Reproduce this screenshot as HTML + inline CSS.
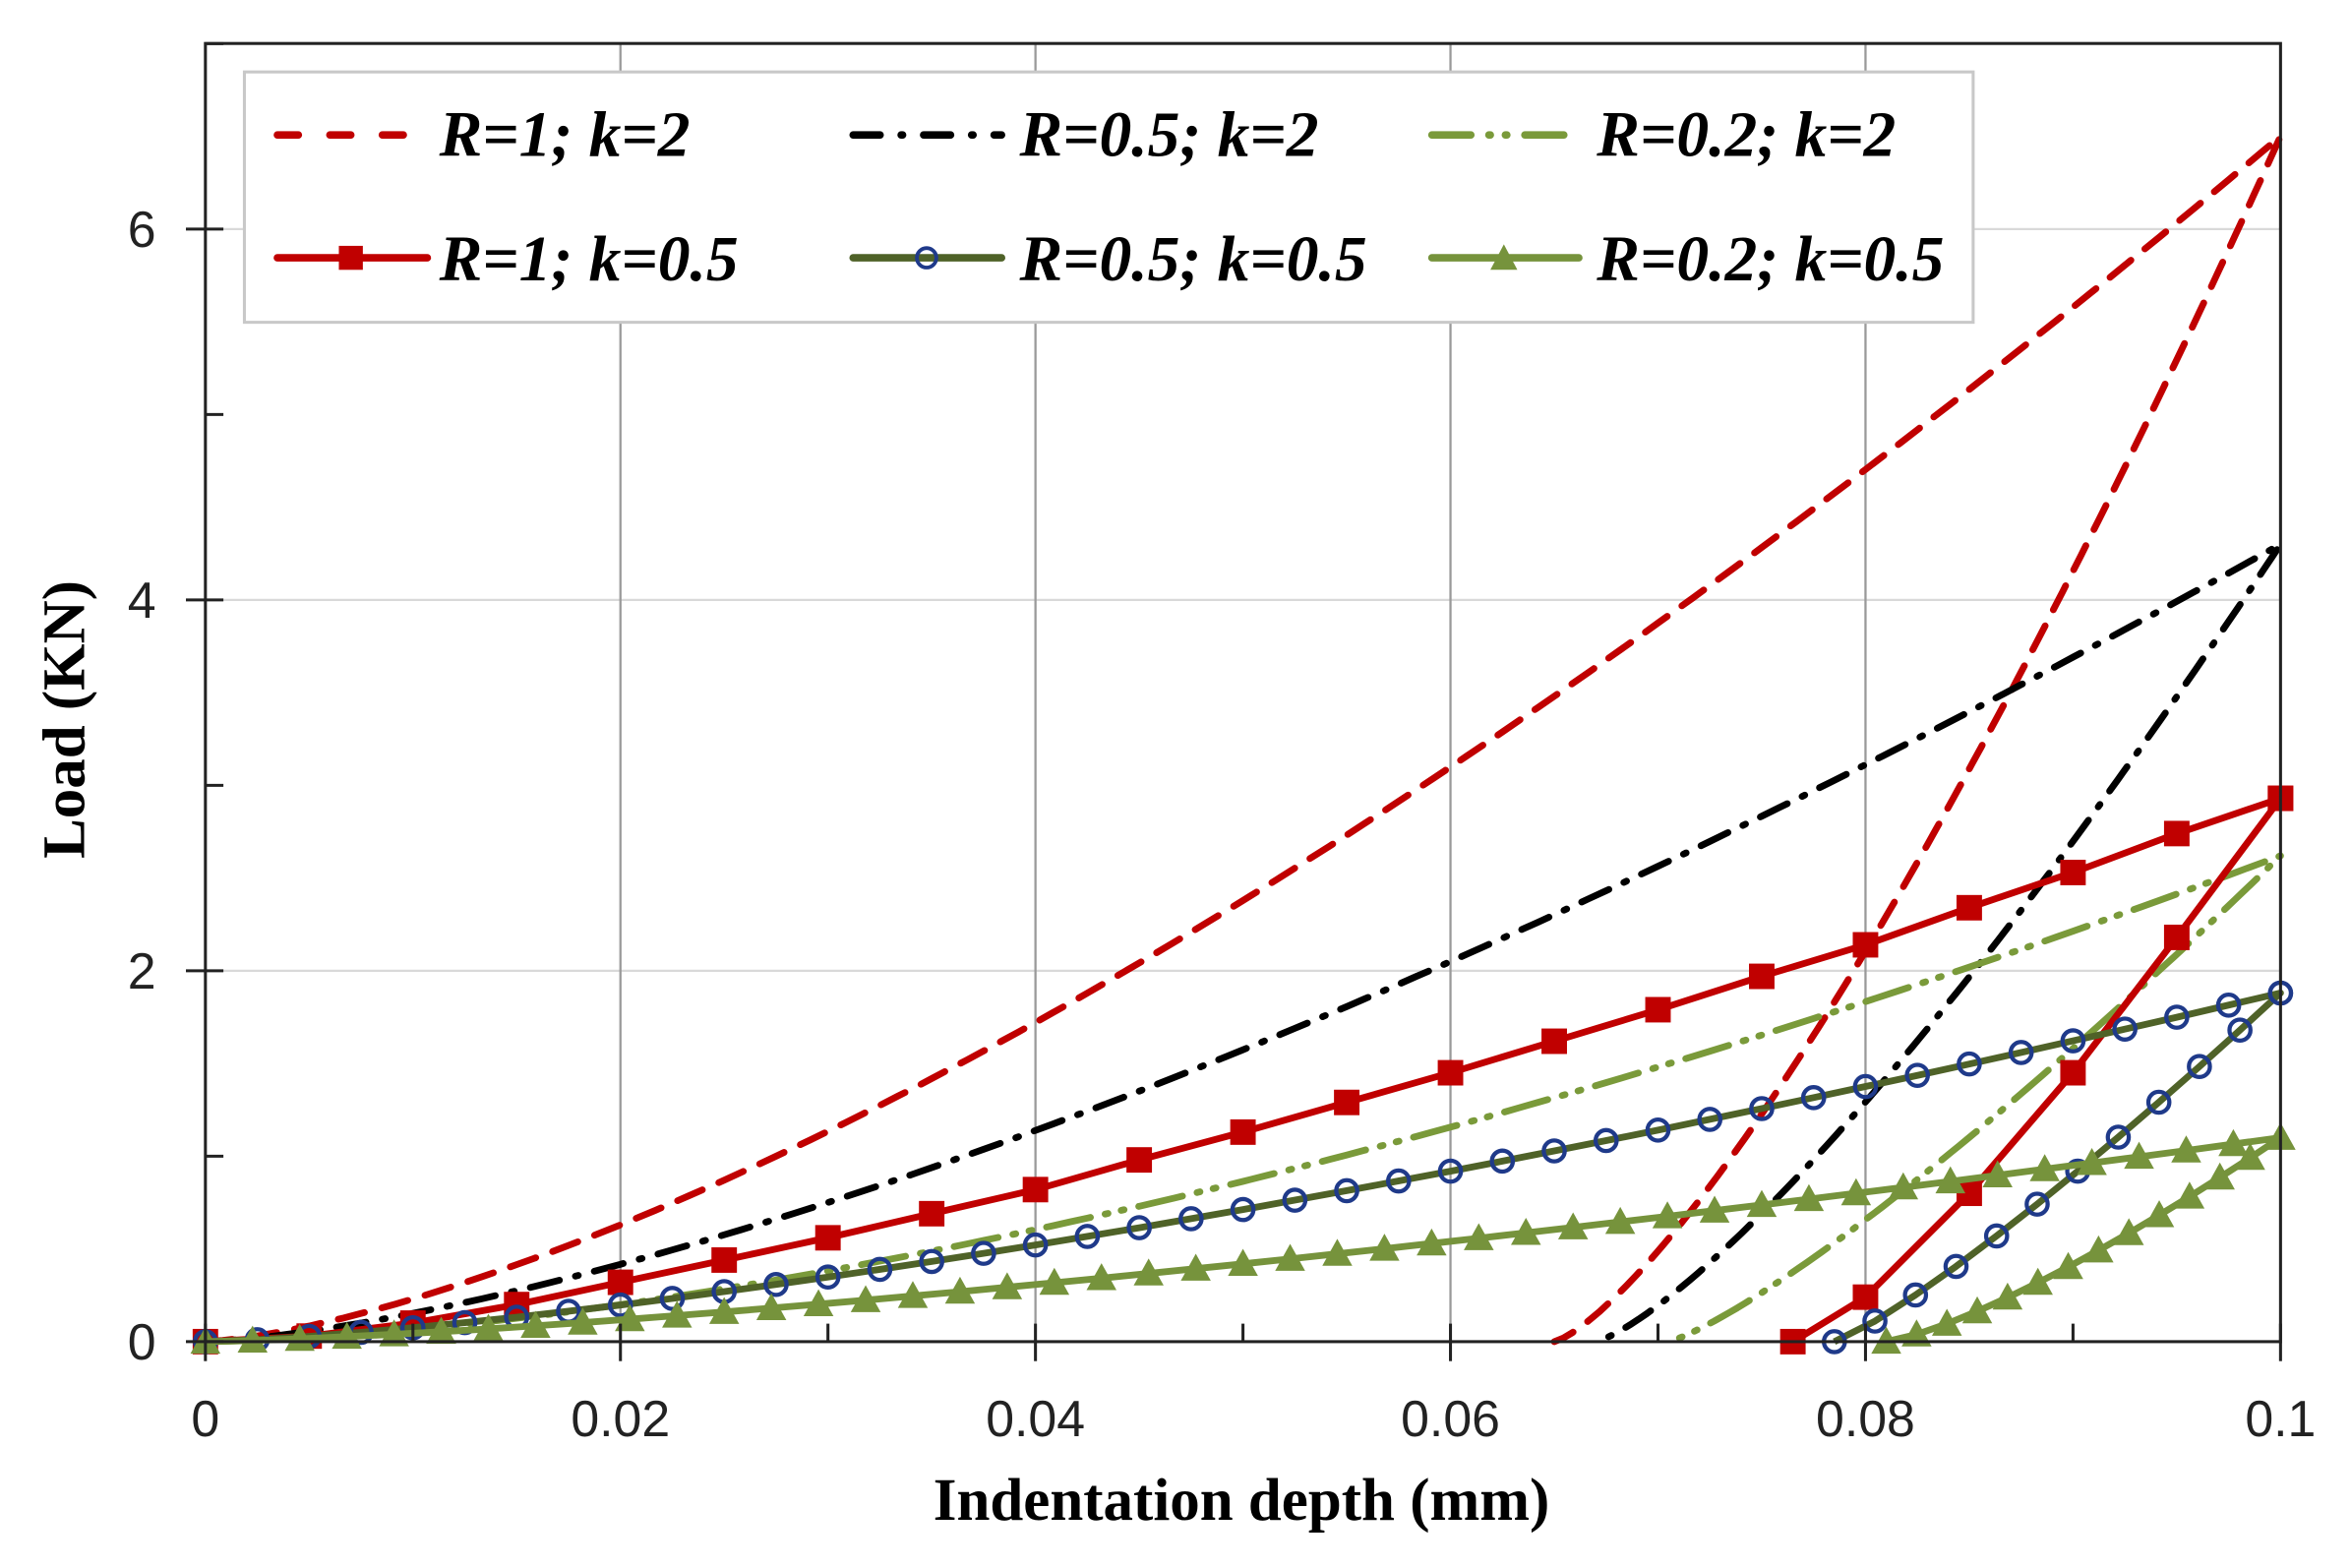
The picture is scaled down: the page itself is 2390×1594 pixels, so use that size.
<!DOCTYPE html>
<html><head><meta charset="utf-8"><style>
html,body{margin:0;padding:0;background:#fff;}
svg{display:block;}
</style></head><body>
<svg id="s" xmlns="http://www.w3.org/2000/svg" width="2390" height="1594" viewBox="0 0 1568 1046" preserveAspectRatio="none">
<rect x="0" y="0" width="1568" height="1046" fill="#fff"/>
<g id="grid"></g>
<g id="series"></g>
<g id="axes"></g>
<!-- legend -->
<rect x="163" y="48" width="1153" height="167" fill="#fff" stroke="#c8c8c8" stroke-width="2"/>
<g font-family="'Liberation Serif',serif" font-weight="bold" font-style="italic" font-size="43" fill="#000">
<text x="293" y="104">R=1; k=2</text>
<text x="680" y="104">R=0.5; k=2</text>
<text x="1065" y="104">R=0.2; k=2</text>
<text x="293" y="187">R=1; k=0.5</text>
<text x="680" y="187">R=0.5; k=0.5</text>
<text x="1065" y="187">R=0.2; k=0.5</text>
</g>
<g stroke-linecap="round">
<line x1="185" y1="90" x2="285" y2="90" stroke="#c00000" stroke-width="5" stroke-dasharray="14,21"/>
<line x1="569" y1="90" x2="668" y2="90" stroke="#000" stroke-width="5" stroke-dasharray="18,14,1,14"/>
<line x1="955" y1="90" x2="1053" y2="90" stroke="#7a9a3a" stroke-width="5" stroke-dasharray="26,12,1,10,1,12"/>
<line x1="185" y1="172" x2="285" y2="172" stroke="#c00000" stroke-width="5"/>
<line x1="569" y1="172" x2="668" y2="172" stroke="#4f6228" stroke-width="5"/>
<line x1="955" y1="172" x2="1053" y2="172" stroke="#76933c" stroke-width="5"/>
</g>
<rect x="226" y="164" width="16" height="16" fill="#c00000"/>
<circle cx="618" cy="172" r="6.5" fill="none" stroke="#1f3a8a" stroke-width="2.5"/>
<polygon points="1003,163 1012,180 994,180" fill="#76933c"/>
<!-- titles -->
<text x="828" y="1014" text-anchor="middle" font-family="'Liberation Serif',serif" font-weight="bold" font-size="40">Indentation depth (mm)</text>
<text transform="translate(56,480) rotate(-90)" text-anchor="middle" font-family="'Liberation Serif',serif" font-weight="bold" font-size="40">Load (KN)</text>
</svg>
<script>
(function(){
var NS="http://www.w3.org/2000/svg";
function X(x){return 137+x*13840;}
function Y(y){return 895-y*123.7;}
function el(p,t,a,txt){var e=document.createElementNS(NS,t);for(var k in a)e.setAttribute(k,a[k]);if(txt!==undefined)e.textContent=txt;p.appendChild(e);return e;}
var grid=document.getElementById('grid'),ax=document.getElementById('axes'),ser=document.getElementById('series');
[2,4,6].forEach(function(v){el(grid,'line',{x1:137,x2:1521,y1:Y(v),y2:Y(v),stroke:'#d9d9d9','stroke-width':1.5});});
[0.02,0.04,0.06,0.08].forEach(function(v){el(grid,'line',{x1:X(v),x2:X(v),y1:29,y2:895,stroke:'#9a9a9a','stroke-width':1.5});});
el(ax,'rect',{x:137,y:29,width:1384,height:866,fill:'none',stroke:'#222','stroke-width':2});
for(var i=0;i<=7;i++){var y=Y(i);if(i%2==0){el(ax,'line',{x1:124,x2:149,y1:y,y2:y,stroke:'#222','stroke-width':2});
el(ax,'text',{x:104,y:y+12,'text-anchor':'end','font-family':"'Liberation Sans',sans-serif",'font-size':34,fill:'#222'},String(i));}
else el(ax,'line',{x1:137,x2:149,y1:y,y2:y,stroke:'#222','stroke-width':2});}
for(var j=0;j<=10;j++){var x=X(j*0.01);if(j%2==0){el(ax,'line',{x1:x,x2:x,y1:883,y2:908,stroke:'#222','stroke-width':2});
el(ax,'text',{x:x,y:958,'text-anchor':'middle','font-family':"'Liberation Sans',sans-serif",'font-size':34,fill:'#222'},j==0?'0':j==10?'0.1':(j/100).toFixed(2));}
else el(ax,'line',{x1:x,x2:x,y1:883,y2:895,stroke:'#222','stroke-width':2});}
function pw(max,p){return function(x){return max*Math.pow(x/0.1,p);};}
function un(max,x0,m){return function(x){return x<=x0?0:max*Math.pow((x-x0)/(0.1-x0),m);};}
function path(f,a,b,n){var d='';for(var i=0;i<=n;i++){var x=a+(b-a)*i/n;d+=(i?'L':'M')+X(x).toFixed(1)+','+Y(f(x)).toFixed(1);}return d;}
function line(d,c,w,da){var a={d:d,fill:'none',stroke:c,'stroke-width':w,'stroke-linejoin':'round'};if(da){a['stroke-dasharray']=da;a['stroke-linecap']='round';}el(ser,'path',a);}
function pts(arr){var d='';arr.forEach(function(p,i){d+=(i?'L':'M')+X(p[0]).toFixed(1)+','+Y(p[1]).toFixed(1);});return d;}
// k=2 dashed
line(path(pw(6.5,1.45),0,0.1,120)+path(un(6.5,0.065,1.33),0.1,0.065,80).replace('M','L'),'#c00000',4.5,'18,12');
line(path(pw(4.3,1.45),0,0.1,120)+path(un(4.3,0.067,1.29),0.1,0.067,80).replace('M','L'),'#000',4.5,'20,11,2,11');
line(path(pw(2.62,1.6),0,0.1,120)+path(un(2.62,0.0705,1.22),0.1,0.0705,80).replace('M','L'),'#7a9a3a',4.5,'30,10,2,9,2,10');
// R=1 k=0.5
var L1=[0,0.03,0.1,0.2,0.32,0.44,0.56,0.69,0.82,0.98,1.13,1.29,1.45,1.62,1.79,1.97,2.14,2.34,2.53,2.74,2.93];
var p1=L1.map(function(v,i){return [i*0.005,v];});
var u1=[[0.1,2.93],[0.095,2.18],[0.09,1.45],[0.085,0.8],[0.08,0.24],[0.0765,0]];
line(pts(p1.concat(u1)),'#c00000',4.5);
p1.concat(u1).forEach(function(p){el(ser,'rect',{x:X(p[0])-8.5,y:Y(p[1])-8.5,width:17,height:17,fill:'#c00000'});});
// R=0.5 k=0.5
var f2=pw(1.88,1.4),g2=un(1.88,0.0785,1.18),p2=[],u2=[];
for(var i=0;i<=40;i++){var x=i*0.0025;p2.push([x,f2(x)]);}
for(var i=0;i<=11;i++){var x=0.1-i*(0.0215/11);u2.push([x,g2(x)]);}
line(pts(p2.concat(u2)),'#4f6228',4.5);
p2.concat(u2).forEach(function(p){el(ser,'circle',{cx:X(p[0]),cy:Y(p[1]),r:7,fill:'none',stroke:'#1f3a8a','stroke-width':2.8});});
// R=0.2 k=0.5
var f3=pw(1.1,1.39),g3=un(1.1,0.081,1.3),p3=[],u3=[];
for(var i=0;i<=44;i++){var x=i*0.1/44;p3.push([x,f3(x)]);}
for(var i=0;i<=13;i++){var x=0.1-i*(0.019/13);u3.push([x,g3(x)]);}
line(pts(p3.concat(u3)),'#76933c',4.5);
p3.concat(u3).forEach(function(p){var cx=X(p[0]),cy=Y(p[1]);el(ser,'polygon',{points:cx+','+(cy-10)+' '+(cx+10)+','+(cy+8)+' '+(cx-10)+','+(cy+8),fill:'#76933c'});});
})();
</script>
</body></html>
